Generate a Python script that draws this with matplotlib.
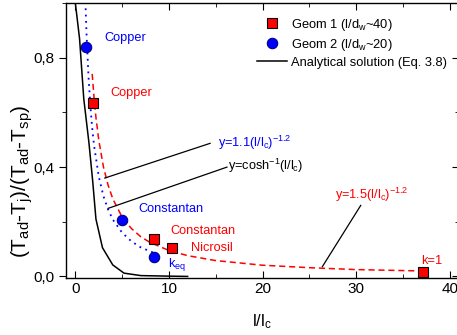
import matplotlib
matplotlib.use('Agg')
import matplotlib.pyplot as plt
from matplotlib.ticker import MultipleLocator, FuncFormatter, NullFormatter

plt.rcParams['font.family'] = ['Liberation Sans', 'DejaVu Sans']
plt.rcParams['mathtext.fontset'] = 'custom'
plt.rcParams['mathtext.rm'] = 'Liberation Sans'
plt.rcParams['mathtext.it'] = 'Liberation Sans'
plt.rcParams['mathtext.default'] = 'regular'

# measured points
geom1_x = [1.9, 8.45, 10.35, 37.2]
geom1_y = [0.636, 0.136, 0.105, 0.017]
geom2_x = [1.12, 4.95, 8.45]
geom2_y = [0.84, 0.208, 0.070]

# analytical solution (Eq. 3.8)
anal_x = [0.0, 0.45, 0.9, 1.45, 1.85, 2.2, 2.9, 4.0, 5.2, 7.0, 10.0, 12.0]
anal_y = [1.0, 0.87, 0.65, 0.49, 0.35, 0.21, 0.105, 0.042, 0.012, 0.003, 0.001, 0.0]

# fit y=1.5(l/lc)^-1.2 (red dashed)
fit1_x = [1.8, 2.0, 2.2, 2.5, 3.0, 3.5, 4.0, 5.0, 6.0, 7.0, 8.0, 10.0, 12.0, 15.0, 20.0, 25.0, 30.0, 37.0]
fit1_y = [0.741, 0.653, 0.582, 0.500, 0.401, 0.334, 0.284, 0.217, 0.175, 0.145, 0.124, 0.095, 0.076, 0.058, 0.041, 0.032, 0.025, 0.020]

# fit y=1.1(l/lc)^-1.2 (blue dotted)
fit2_x = [1.1, 1.2, 1.4, 1.6, 1.8, 2.0, 2.5, 3.0, 3.5, 4.0, 5.0, 6.0, 7.0, 8.4]
fit2_y = [0.981, 0.884, 0.735, 0.626, 0.543, 0.479, 0.366, 0.294, 0.245, 0.208, 0.160, 0.128, 0.106, 0.086]

fig = plt.figure(figsize=(4.57, 3.35), dpi=100)
ax = fig.add_axes([0.1444, 0.1716, 0.86, 0.819])

ax.plot(fit1_x, fit1_y, color='red', ls=(0, (4, 2.5)), lw=1.1)
ax.plot(fit2_x, fit2_y, color='blue', ls=(0, (1, 2.5)), lw=1.3)
l_an, = ax.plot(anal_x, anal_y, color='black', lw=1.1)
p1, = ax.plot(geom1_x, geom1_y, 's', color='red', mec='black', mew=0.8, ms=6.5, ls='none')
p2, = ax.plot(geom2_x, geom2_y, 'o', color='blue', mec='#000080', mew=0.8, ms=7.5, ls='none')

# annotation leader lines
ax.plot([3.15, 14.4], [0.36, 0.487], color='black', lw=0.9)
ax.plot([3.5, 16.2], [0.249, 0.40], color='black', lw=0.9)
ax.plot([26.4, 30.5], [0.036, 0.26], color='black', lw=0.9)

fs = 9.2
ax.text(3.15, 0.873, 'Copper', color='blue', fontsize=fs, va='center')
ax.text(3.7, 0.67, 'Copper', color='red', fontsize=fs, va='center')
ax.text(6.72, 0.247, 'Constantan', color='blue', fontsize=fs, va='center')
ax.text(10.2, 0.167, 'Constantan', color='red', fontsize=fs, va='center')
ax.text(12.35, 0.103, 'Nicrosil', color='red', fontsize=fs, va='center')
ax.text(9.86, 0.036, 'k$_{eq}$', color='blue', fontsize=fs, va='baseline')
ax.text(36.95, 0.058, 'k=1', color='red', fontsize=fs, va='center')
ax.text(15.2, 0.49, 'y=1.1(l/l$_c$)$^{-1.2}$', color='blue', fontsize=fs, va='center')
ax.text(16.3, 0.405, 'y=cosh$^{-1}$(l/l$_c$)', color='black', fontsize=fs, va='center')
ax.text(27.7, 0.297, 'y=1.5(l/l$_c$)$^{-1.2}$', color='red', fontsize=fs, va='center')

ax.set_xlim(-1, 41)
ax.set_ylim(-0.004, 1.0)
ax.xaxis.set_major_locator(MultipleLocator(10))
ax.xaxis.set_minor_locator(MultipleLocator(5))
ax.yaxis.set_major_locator(MultipleLocator(0.4))
ax.yaxis.set_minor_locator(MultipleLocator(0.2))
ax.yaxis.set_major_formatter(FuncFormatter(lambda v, p: f'{v:.1f}'.replace('.', ',')))

ax.tick_params(axis='x', which='both', direction='in', top=True, labelsize=11)
ax.tick_params(axis='x', which='major', length=5)
ax.tick_params(axis='x', which='minor', length=3)
ax.tick_params(axis='y', which='both', direction='out', labelsize=11, left=True, right=False)
ax.tick_params(axis='y', which='major', length=5)
ax.tick_params(axis='y', which='minor', length=3)
for sp in ax.spines.values():
    sp.set_linewidth(1.0)

# inward ticks on the right-hand frame
ax_r = ax.secondary_yaxis('right')
ax_r.yaxis.set_major_locator(MultipleLocator(0.4))
ax_r.yaxis.set_minor_locator(MultipleLocator(0.2))
ax_r.yaxis.set_major_formatter(NullFormatter())
ax_r.tick_params(which='both', direction='in')
ax_r.tick_params(which='major', length=5)
ax_r.tick_params(which='minor', length=3)
ax_r.spines['right'].set_linewidth(1.0)

ax.set_xlabel('l/l$_c$', fontsize=12)
ax.set_ylabel('(T$_{ad}$-T$_j$)/(T$_{ad}$-T$_{sp}$)', fontsize=15)
ax.xaxis.set_label_coords(0.499, -0.125)
ax.yaxis.set_label_coords(-0.08, 0.35)

ax.legend([p1, p2, l_an],
          ['Geom 1 (l/d$_w$~40)', 'Geom 2 (l/d$_w$~20)', 'Analytical solution (Eq. 3.8)'],
          loc='upper left', bbox_to_anchor=(256.7 / 457, 1 - 17 / 335),
          bbox_transform=fig.transFigure, frameon=False, fontsize=9.3,
          numpoints=1, handlelength=2.35, handletextpad=0.27,
          labelspacing=0.3, borderpad=0, borderaxespad=0)

fig.savefig('out.png', dpi=100)
